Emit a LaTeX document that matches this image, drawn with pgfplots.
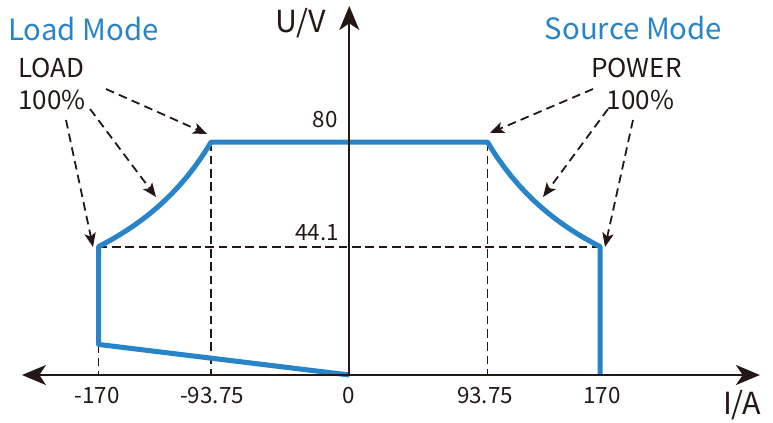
\documentclass[border=0pt]{standalone}
\usepackage{fontspec}
\setmainfont{Noto Sans CJK SC}
\usepackage{pgfplots}
\pgfplotsset{compat=1.18}
\usetikzlibrary{arrows.meta}
\definecolor{cblue}{RGB}{40,132,200}
\definecolor{cblack}{RGB}{35,24,21}
\begin{document}
\begin{tikzpicture}
\begin{axis}[
  scale only axis, width=579.75pt, height=317.25pt,
  xmin=-236.81, xmax=287.25, ymin=-16.49, ymax=128.87,
  hide axis, clip=false,
]
\coordinate (TL) at (rel axis cs:0,1);
\coordinate (SW) at (rel axis cs:0,0);
\coordinate (NE) at (rel axis cs:1,1);
% dashed guides
\addplot[cblack, line width=1.35pt, dash pattern=on 6.5pt off 3.5pt] coordinates {(-170,44.1) (170,44.1)};
\addplot[cblack, line width=1.35pt, dash pattern=on 6.5pt off 3.5pt] coordinates {(-93.75,80) (-93.75,0)};
\addplot[cblack, line width=1.35pt, dash pattern=on 6.5pt off 3.5pt] coordinates {(93.75,80) (93.75,0)};
\addplot[cblack, line width=1.35pt, dash pattern=on 6.5pt off 3.5pt] coordinates {(-170,10.5) (-170,0)};
% operating envelope
\addplot[cblue, line width=3.8pt, line join=round] coordinates {
(0,0) (-170,10.5) (-170,44.12) (-165,45.45) (-160,46.88) (-155,48.39) (-150,50.00)
(-145,51.72) (-140,53.57) (-135,55.56) (-130,57.69) (-125,60.00) (-120,62.50)
(-115,65.22) (-110,68.18) (-105,71.43) (-100,75.00) (-97,77.32) (-93.75,80)
(93.75,80) (97,77.32) (100,75.00) (105,71.43) (110,68.18) (115,65.22) (120,62.50)
(125,60.00) (130,57.69) (135,55.56) (140,53.57) (145,51.72) (150,50.00) (155,48.39)
(160,46.88) (165,45.45) (170,44.12) (170,0)
};
% axes
\addplot[cblack, line width=1.6pt, {Stealth[length=18pt,width=15pt,inset=5pt]}-{Stealth[length=18pt,width=15pt,inset=5pt]}] coordinates {(-221.9,0) (278.4,0)};
\addplot[cblack, line width=1.6pt, -{Stealth[length=18pt,width=15pt,inset=5pt]}] coordinates {(0,0) (0,126.8)};
\end{axis}
\begin{scope}[shift={(TL)}, x=0.75pt, y=-0.75pt]
  \begin{scope}[cblack, line width=1.35pt, dash pattern=on 6.5pt off 4pt, -{Stealth[length=10.5pt,width=8.5pt,inset=2.5pt]}]
    \draw (106,89) -- (207,134);
    \draw (90,109) -- (156,197);
    \draw (66,120) -- (93,247);
    \draw (593,89) -- (490,133);
    \draw (608,109) -- (543,197);
    \draw (633,120) -- (605,247);
  \end{scope}
  \begin{scope}[text=cblack, inner sep=0pt]
    \node[anchor=base, font=\fontsize{16.8}{18}\selectfont] at (97,404) {-170};
    \node[anchor=base, font=\fontsize{16.8}{18}\selectfont] at (212,404) {-93.75};
    \node[anchor=base, font=\fontsize{16.8}{18}\selectfont] at (349,404) {0};
    \node[anchor=base, font=\fontsize{16.8}{18}\selectfont] at (485,404) {93.75};
    \node[anchor=base, font=\fontsize{16.8}{18}\selectfont] at (602,404) {170};
    \node[anchor=base, font=\fontsize{16.8}{18}\selectfont] at (325,128) {80};
    \node[anchor=base, font=\fontsize{16.8}{18}\selectfont] at (317,241) {44.1};
    \node[anchor=base, font=\fontsize{22.8}{24}\selectfont] at (301,33) {U/V};
    \node[anchor=base, font=\fontsize{22.8}{24}\selectfont] at (742,415) {I/A};
    \node[anchor=base west, font=\fontsize{19.5}{20}\selectfont] at (18,78) {LOAD};
    \node[anchor=base west, font=\fontsize{19.5}{20}\selectfont] at (18,110) {100\%};
    \node[anchor=base, font=\fontsize{19.5}{20}\selectfont] at (636.5,78) {POWER};
    \node[anchor=base, font=\fontsize{19.5}{20}\selectfont] at (640.5,110) {100\%};
  \end{scope}
  \node[anchor=base, inner sep=0pt, text=cblue, font=\fontsize{22}{24}\selectfont] at (83.5,40.5) {Load Mode};
  \node[anchor=base, inner sep=0pt, text=cblue, font=\fontsize{22}{24}\selectfont] at (633.5,39.5) {Source Mode};
\end{scope}
\pgfresetboundingbox
\path[use as bounding box] (SW) rectangle (NE);
\end{tikzpicture}
\end{document}
